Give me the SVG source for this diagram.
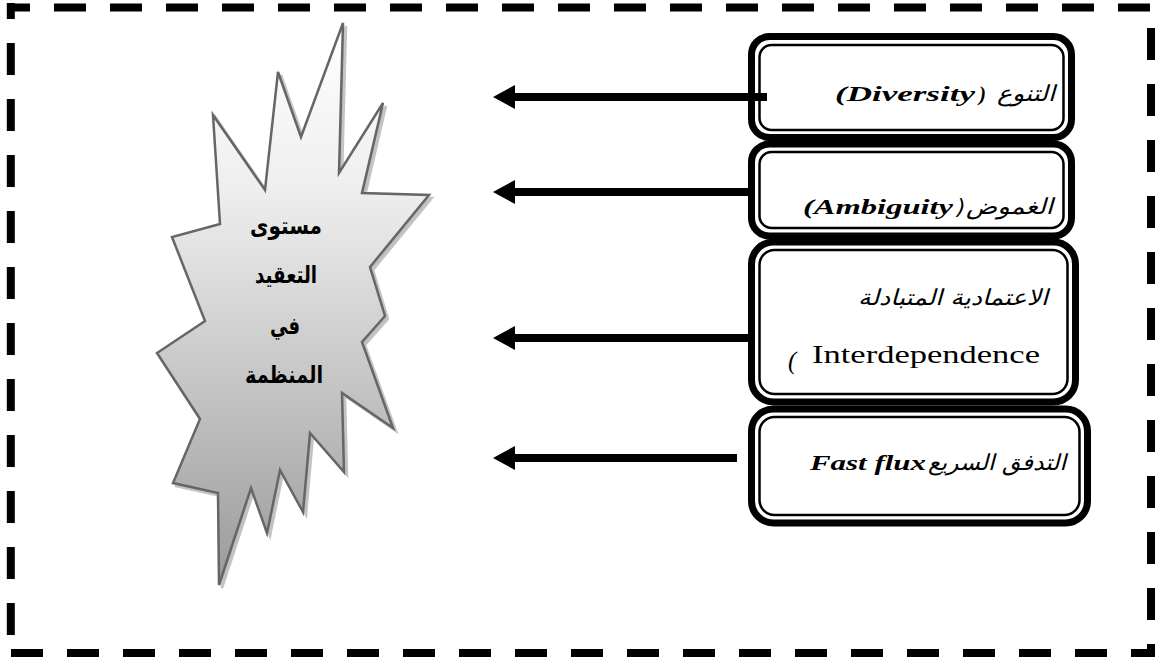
<svg xmlns="http://www.w3.org/2000/svg" width="1155" height="657" viewBox="0 0 1155 657">
<style>
.frame{stroke:#000;stroke-width:8;fill:none;stroke-dasharray:32 24}
.outer{fill:#fff;stroke:#000;stroke-width:7}
.inner{fill:none;stroke:#000;stroke-width:2.5}
.lat{font-family:"Liberation Serif","Times New Roman",serif;font-weight:bold;font-style:italic;font-size:21px;fill:#000}
.latr{font-family:"Liberation Serif","Times New Roman",serif;font-size:25px;fill:#000}
.ar{font-family:"DejaVu Sans","Noto Sans",sans-serif;font-style:italic;font-size:22px;fill:#000}
.star{font-family:"DejaVu Sans","Noto Sans",sans-serif;font-weight:bold;font-size:24px;fill:#000;text-anchor:middle}
.shaft{stroke:#000;stroke-width:8;fill:none}
</style>
<defs>
<linearGradient id="g" x1="0" y1="0" x2="0" y2="1">
<stop offset="0" stop-color="#ffffff"/>
<stop offset="0.3" stop-color="#eeeeee"/>
<stop offset="1" stop-color="#9a9a9a"/>
</linearGradient>
<marker id="ah" markerUnits="userSpaceOnUse" viewBox="0 0 22 24" refX="1" refY="12" markerWidth="22" markerHeight="24" orient="auto">
<path d="M0,0 L22,12 L0,24 z" fill="#000"/>
</marker>
</defs>
<rect width="1155" height="657" fill="#fff"/>
<g id="frame">
<line class="frame" x1="7" y1="7.5" x2="1151" y2="7.5" stroke-dashoffset="9"/>
<line class="frame" x1="10.8" y1="3" x2="10.8" y2="657" stroke-dashoffset="16"/>
<line class="frame" x1="7" y1="653" x2="1155" y2="653" stroke-dashoffset="52"/>
<line class="frame" x1="1151" y1="7" x2="1151" y2="657" stroke-dashoffset="35"/>
</g>
<g id="complexity">
<polygon transform="translate(3,3)" fill="#bdbdbd" stroke="#c4c4c4" stroke-width="2.5" points="343,23 339,173 383,103 362,193 429,195 370,267 385,316 362,342 393,428 342,393 344,472 310,433 303,512 280,470 267,533 251,488 219,585 218,493 173,483 200,419 157,353 205,321 172,237 220,224 213,115 265,190 278,72 301,137"/>
<polygon fill="url(#g)" stroke="#666" stroke-width="2.5" points="343,23 339,173 383,103 362,193 429,195 370,267 385,316 362,342 393,428 342,393 344,472 310,433 303,512 280,470 267,533 251,488 219,585 218,493 173,483 200,419 157,353 205,321 172,237 220,224 213,115 265,190 278,72 301,137"/>
<text class="star" x="286" y="234" textLength="72" lengthAdjust="spacingAndGlyphs">مستوى</text>
<text class="star" x="286" y="283" textLength="62" lengthAdjust="spacingAndGlyphs">التعقيد</text>
<text class="star" x="285" y="334" textLength="30" lengthAdjust="spacingAndGlyphs">في</text>
<text class="star" x="284" y="383" textLength="78" lengthAdjust="spacingAndGlyphs">المنظمة</text>
</g>
<g id="diversity">
<rect class="outer" x="751.5" y="36.5" width="320" height="101" rx="18"/>
<rect class="inner" x="759.5" y="45" width="304" height="85" rx="12"/>
<text class="lat" x="835" y="101" textLength="140" lengthAdjust="spacingAndGlyphs">(Diversity</text>
<text class="lat" x="979" y="101">)</text>
<text class="ar" x="997" y="101" textLength="58" lengthAdjust="spacingAndGlyphs">التنوع</text>
</g>
<g id="ambiguity">
<rect class="outer" x="751.5" y="144" width="320" height="92" rx="18"/>
<rect class="inner" x="759.5" y="152" width="304" height="76" rx="12"/>
<text class="lat" x="803" y="214" textLength="150" lengthAdjust="spacingAndGlyphs">(Ambiguity</text>
<text class="ar" x="957" y="214">)</text>
<text class="ar" x="966" y="214" textLength="87" lengthAdjust="spacingAndGlyphs">الغموض</text>
</g>
<g id="interdependence">
<rect class="outer" x="751.5" y="242" width="324" height="160" rx="22"/>
<rect class="inner" x="759.5" y="250" width="308" height="144" rx="15"/>
<text class="ar" x="858" y="305" textLength="190" lengthAdjust="spacingAndGlyphs">الاعتمادية المتبادلة</text>
<text class="latr" x="788" y="369" font-style="italic" font-size="28">(</text>
<text class="latr" x="812" y="363" textLength="228" lengthAdjust="spacingAndGlyphs">Interdependence</text>
</g>
<g id="fastflux">
<rect class="outer" x="751.5" y="409" width="336" height="114" rx="22"/>
<rect class="inner" x="759.5" y="417" width="320" height="98" rx="15"/>
<text class="lat" x="810" y="470" font-size="22" textLength="116" lengthAdjust="spacingAndGlyphs">Fast flux</text>
<text class="ar" x="928" y="470" textLength="138" lengthAdjust="spacingAndGlyphs">التدفق السريع</text>
</g>
<g id="connectors">
<path class="shaft" d="M767,97 L514,97" marker-end="url(#ah)"/>
<path class="shaft" d="M748,192 L514,192" marker-end="url(#ah)"/>
<path class="shaft" d="M749,338 L514,338" marker-end="url(#ah)"/>
<path class="shaft" d="M737,458 L514,458" marker-end="url(#ah)"/>
</g>
</svg>
